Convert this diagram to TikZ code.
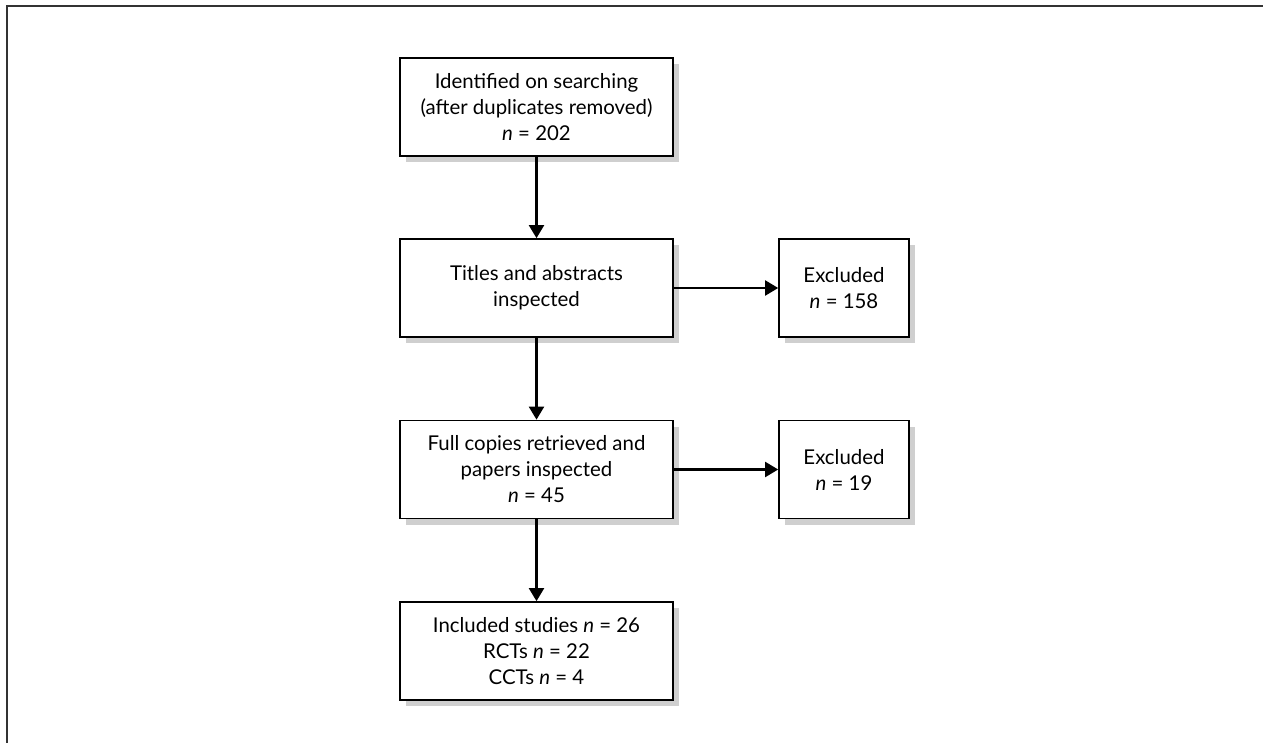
\documentclass[tikz,border=0pt]{standalone}
\usepackage{fontspec}
\setmainfont{Lato}
\usetikzlibrary{arrows.meta,shadows}
\tikzset{
	flowbox/.style={draw,line width=0.85pt,fill=white,align=center,inner sep=2pt,
		minimum height=49pt,
		drop shadow={shadow xshift=3pt,shadow yshift=-3pt,fill=black!19,opacity=1}},
	widebox/.style={flowbox,minimum width=136.5pt},
	exbox/.style={flowbox,minimum width=65pt}
}
\newcommand{\nval}[1]{\textit{n} = #1}
\begin{document}
\begin{tikzpicture}[x=0.5pt,y=-0.5pt,>={Triangle[length=6.5pt,width=7.5pt]},font=\fontsize{10.2}{13}\selectfont]
			\useasboundingbox (0,0) rectangle (1263,743);
			\draw[line width=1.1pt,black!80] (7,743)--(7,6)--(1263,6);
			\node[widebox] (search) at (536.5,107) {Identified on searching\\(after duplicates removed)\\\nval{202}};
			\node[widebox] (titles) at (536.5,288) {Titles and abstracts\\inspected};
			\node[widebox] (full) at (536.5,469.5) {Full copies retrieved and\\papers inspected\\\nval{45}};
			\node[widebox] (incl) at (536.5,651) {Included studies \nval{26}\\RCTs \nval{22}\\CCTs \nval{4}};
			\node[exbox] (excla) at (844,288) {Excluded\\\nval{158}};
			\node[exbox] (exclb) at (844,469.5) {Excluded\\\nval{19}};
			\draw[->,line width=1.1pt] (search)--(titles);
			\draw[->,line width=1.1pt] (titles)--(full);
			\draw[->,line width=1.1pt] (full)--(incl);
			\draw[->,line width=1.1pt] (titles)--(excla);
			\draw[->,line width=1.1pt] (full)--(exclb);
		\end{tikzpicture}
\end{document}
